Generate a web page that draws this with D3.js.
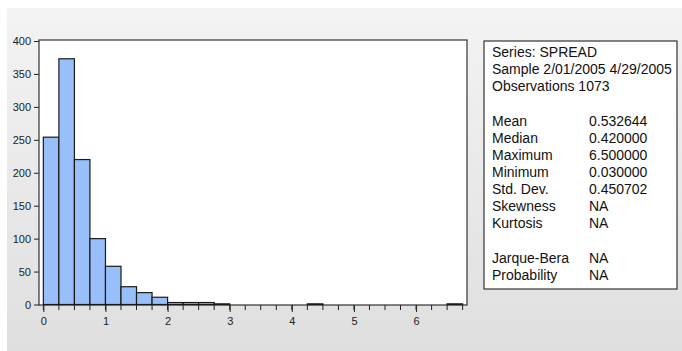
<!DOCTYPE html>
<html>
<head>
<meta charset="utf-8">
<script src="https://cdn.jsdelivr.net/npm/d3@7"></script>
<style>
  body { margin: 0; background: #fff; }
  svg { display: block; font-family: "Liberation Sans", Arial, sans-serif; }
</style>
</head>
<body>
<svg id="chart" width="682" height="351"></svg>
<script>
// histogram bins (lower edge) and counts
var binStart = [0, 0.25, 0.5, 0.75, 1, 1.25, 1.5, 1.75, 2, 2.25, 2.5, 2.75, 4.25, 6.5];
var counts   = [254, 373, 220, 100, 58, 27, 18, 11, 3, 3, 3, 1, 1, 1];
var binWidth = 0.25;
var yTicks = [0, 50, 100, 150, 200, 250, 300, 350, 400];
var xTicks = [0, 1, 2, 3, 4, 5, 6];

var statsHeader = ["Series: SPREAD", "Sample 2/01/2005 4/29/2005", "Observations 1073"];
var statNames  = ["Mean", "Median", "Maximum", "Minimum", "Std. Dev.", "Skewness", "Kurtosis"];
var statValues = ["0.532644", "0.420000", "6.500000", "0.030000", "0.450702", "NA", "NA"];
var testNames  = ["Jarque-Bera", "Probability"];
var testValues = ["NA", "NA"];

var svg = d3.select("#chart");

// gray panel background
var defs = svg.append("defs");
var grad = defs.append("linearGradient").attr("id", "bg").attr("x1", 0).attr("y1", 0).attr("x2", 0).attr("y2", 1);
grad.append("stop").attr("offset", "0%").attr("stop-color", "#f3f3f3");
grad.append("stop").attr("offset", "100%").attr("stop-color", "#dfdfdf");
svg.append("rect").attr("x", 7).attr("y", 8).attr("width", 675).attr("height", 343).attr("fill", "url(#bg)");

var plot = {left: 39, top: 40, right: 467, bottom: 305};

var x = d3.scaleLinear().domain([-0.07, 6.82]).range([plot.left, plot.right]);
var y = d3.scaleLinear().domain([0, 400]).range([304.5, 41]);

svg.append("rect")
    .attr("x", plot.left).attr("y", plot.top)
    .attr("width", plot.right - plot.left).attr("height", plot.bottom - plot.top)
    .attr("fill", "#fff").attr("stroke", "#333").attr("stroke-width", 1.2);

svg.selectAll(".bar")
    .data(binStart)
  .enter().append("rect")
    .attr("class", "bar")
    .attr("x", function(d) { return x(d); })
    .attr("width", function(d) { return x(d + binWidth) - x(d); })
    .attr("y", function(d, i) { return y(counts[i]); })
    .attr("height", function(d, i) { return y(0) - y(counts[i]); })
    .attr("fill", "#99bffa")
    .attr("stroke", "#1a1a1a")
    .attr("stroke-width", 1.2);

// y axis
var yAxis = d3.axisLeft(y).tickValues(yTicks).tickSize(5).tickPadding(3);
var gy = svg.append("g").attr("transform", "translate(" + plot.left + ",0)").call(yAxis);
gy.select(".domain").remove();

// x axis: major ticks at integers, minor every 0.25
var minor = d3.range(0, 6.76, 0.25);
var gx = svg.append("g").attr("transform", "translate(0," + plot.bottom + ")");
gx.selectAll(".minor").data(minor).enter().append("line")
    .attr("x1", function(d) { return x(d); }).attr("x2", function(d) { return x(d); })
    .attr("y1", 0).attr("y2", 5).attr("stroke", "#222");
var xAxis = d3.axisBottom(x).tickValues(xTicks).tickFormat(d3.format("d")).tickSize(7).tickPadding(5);
gx.call(xAxis);
gx.select(".domain").remove();

svg.selectAll(".tick text").attr("font-size", 11).attr("fill", "#222").attr("font-family", "Liberation Sans, Arial, sans-serif");
svg.selectAll(".tick line").attr("stroke", "#222");

// stats box
var box = svg.append("g");
box.append("rect").attr("x", 484).attr("y", 41).attr("width", 193).attr("height", 248)
    .attr("fill", "#fff").attr("stroke", "#333").attr("stroke-width", 1.2);

var lineH = 17;
var tx = 492, vx = 589;
function addText(str, xx, yy) {
  box.append("text").attr("x", xx).attr("y", yy).attr("font-size", 14).attr("fill", "#111").text(str);
}
statsHeader.forEach(function(s, i) { addText(s, tx, 57 + i * lineH); });
statNames.forEach(function(s, i) {
  addText(s, tx, 126 + i * lineH);
  addText(statValues[i], vx, 126 + i * lineH);
});
testNames.forEach(function(s, i) {
  addText(s, tx, 263 + i * lineH);
  addText(testValues[i], vx, 263 + i * lineH);
});
</script>
</body>
</html>
